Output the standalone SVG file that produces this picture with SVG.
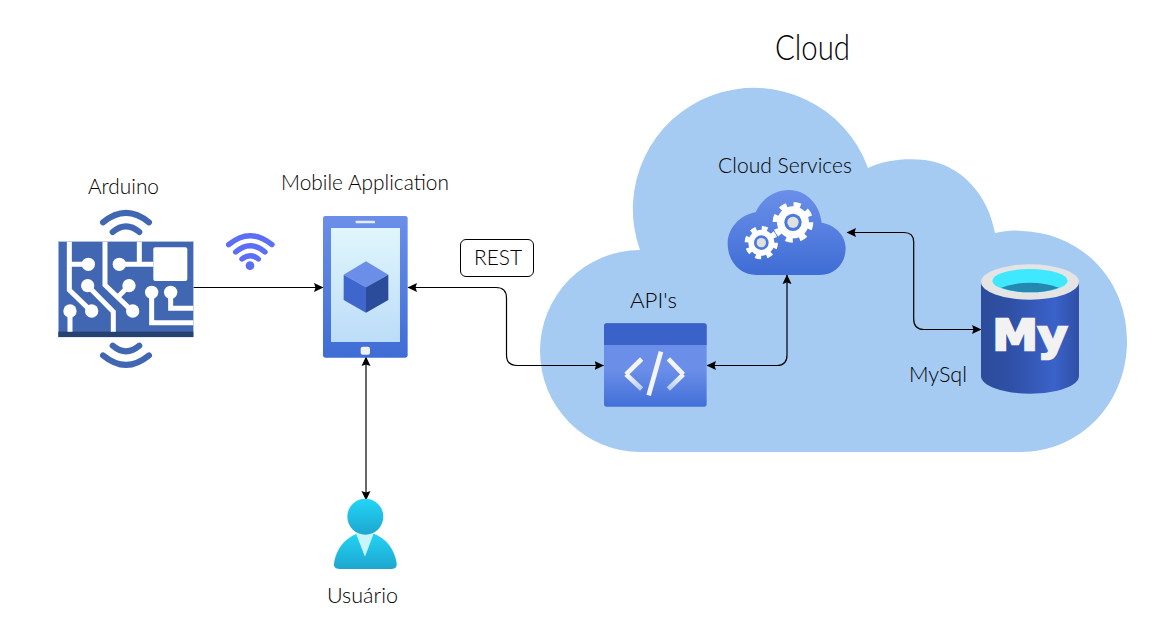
<svg xmlns="http://www.w3.org/2000/svg" width="1154" height="622" viewBox="0 0 1154 622">
<style>
text{font-family:"Lato","Liberation Sans",sans-serif;font-weight:300;font-size:21px;fill:#000}
.conn{fill:none;stroke:#000;stroke-width:1.2;marker-start:url(#ah);marker-end:url(#ah)}
.wave{fill:none;stroke:#4166b2;stroke-width:18;stroke-linecap:round}
.tr{fill:none;stroke:#fff;stroke-width:15}
.wf{fill:none;stroke:#5b6ef5;stroke-width:16;stroke-linecap:round}
.ch{fill:none;stroke:#f4f4f4;stroke-width:14}
</style>
<defs>
<marker id="ah" markerUnits="userSpaceOnUse" markerWidth="11" markerHeight="10" refX="9" refY="5" orient="auto-start-reverse"><path d="M0 .5L9.500 5L0 9.500L1.500 5Z" fill="#000"/></marker>
<linearGradient id="blue" x1="0" y1="0" x2="0" y2="1"><stop offset="0" stop-color="#6b8fe9"/><stop offset="1" stop-color="#3f6dd5"/></linearGradient>
<linearGradient id="api" x1="0" y1="0" x2="0" y2="1"><stop offset="0.55" stop-color="#6b8fe9"/><stop offset="1" stop-color="#426fd8"/></linearGradient>
<linearGradient id="scr" x1="0" y1="0" x2="0" y2="1"><stop offset="0" stop-color="#e0f6fc"/><stop offset="1" stop-color="#bcdcf8"/></linearGradient>
<linearGradient id="cyl" x1="0" y1="0" x2="1" y2="0"><stop offset="0" stop-color="#2c4b9a"/><stop offset="0.3" stop-color="#2f50a6"/><stop offset="0.75" stop-color="#3a62c9"/><stop offset="1" stop-color="#2f50a6"/></linearGradient>
<linearGradient id="usr" x1="0" y1="0" x2="0" y2="1"><stop offset="0" stop-color="#22d6f7"/><stop offset="1" stop-color="#1ea6cf"/></linearGradient>
<linearGradient id="fadeL" gradientUnits="userSpaceOnUse" x1="110" y1="680" x2="155" y2="717"><stop offset="0" stop-color="#f4f4f4"/><stop offset="1" stop-color="#b9cdf3"/></linearGradient>
<linearGradient id="fadeR" gradientUnits="userSpaceOnUse" x1="280" y1="680" x2="235" y2="717"><stop offset="0" stop-color="#f4f4f4"/><stop offset="1" stop-color="#b9cdf3"/></linearGradient>
</defs>
<rect width="1154" height="622" fill="#fff"/>

<g id="cloud">
<path d="M640 452A100 101 0 0 1 640 250A119 119 0 0 1 868 168C885 160 905 158 925 160C962 165 988 195 995 233C1005 231 1012 230 1022 231C1082 233 1127 280 1127 341C1127 402 1082 452 1020 452Z" fill="#a5cbf2"/>
<text x="812.500" y="60" text-anchor="middle" style="font-size:35px" textLength="75" lengthAdjust="spacingAndGlyphs">Cloud</text>
</g>

<g id="connectors">
<path d="M193 287.500H323" class="conn" style="marker-start:none"/>
<path d="M408 287.500H496Q506.500 287.500 506.500 298V355Q506.500 365.500 517 365.500H603.500" class="conn"/>
<path d="M366 357V500" class="conn"/>
<path d="M707 365.500H777Q787 365.500 787 355V275" class="conn"/>
<path d="M847 232.500H904Q913.700 232.500 913.700 242V319Q913.700 329.500 924 329.500H981" class="conn"/>
</g>

<g id="arduino">
<text x="123.500" y="194" text-anchor="middle" textLength="71" lengthAdjust="spacingAndGlyphs">Arduino</text>
<g transform="translate(40 170) scale(.3333)">
<rect x="55" y="215" width="405" height="286" fill="#4166b2" stroke="#a9bde0" stroke-width="2"/>
<rect x="55" y="485" width="405" height="16" fill="#26426f"/>
<path class="tr" d="M88 215V360L155 425M88 283H145M143 347L220 425V485M195 215V345L278 425M267 347L230 385M238 283H340M298 215V283M90 423V485M335 367V458H460M392 367V415H460"/>
<g fill="#fff"><circle cx="145" cy="283" r="20"/><circle cx="238" cy="283" r="20"/><circle cx="143" cy="347" r="20"/><circle cx="267" cy="347" r="20"/><circle cx="155" cy="423" r="20"/><circle cx="278" cy="423" r="20"/><circle cx="90" cy="423" r="20"/><circle cx="335" cy="367" r="20"/><circle cx="392" cy="367" r="20"/><rect x="340" y="232" width="102" height="101" rx="6"/></g>
<path class="wave" d="M189 157Q258 100 327 157M218 186Q258 152 298 186M218 527Q258 561 298 527M189 556Q258 613 327 556"/>
</g>
</g>

<g id="wifi" transform="translate(40 170) scale(.3333)">
<path class="wf" d="M566 224Q630 170 696 224M587 246Q630 208 675 246M606 267Q630 247 655 267"/>
<circle cx="630" cy="287" r="13" fill="#5b6ef5"/>
</g>

<g id="mobile">
<text x="365" y="190" text-anchor="middle" textLength="168" lengthAdjust="spacingAndGlyphs">Mobile Application</text>
<g transform="translate(300 170) scale(.3333)">
<rect x="69" y="138" width="254" height="425" rx="7" fill="url(#blue)"/>
<rect x="93" y="174" width="207" height="342" fill="url(#scr)"/>
<rect x="167" y="152" width="58" height="8" rx="2" fill="#e4ecfa"/>
<rect x="182" y="530" width="28" height="24" rx="6" fill="#f0f0f0"/>
<path d="M198 274L265 314L198 352L131 314Z" fill="#6b8fe9"/>
<path d="M131 314L198 352V428L131 390Z" fill="#3f66cc"/>
<path d="M265 314L198 352V428L265 390Z" fill="#2b4b9b"/>
</g>
</g>

<g id="rest">
<rect x="460.500" y="239.500" width="73" height="37" rx="5.500" fill="#fff" stroke="#000" stroke-width="1"/>
<text x="498" y="265" text-anchor="middle" textLength="48" lengthAdjust="spacingAndGlyphs">REST</text>
</g>

<g id="apis">
<text x="653.500" y="308" text-anchor="middle" textLength="47" lengthAdjust="spacingAndGlyphs">API's</text>
<g transform="translate(590 150) scale(.3333)">
<rect x="42" y="520" width="308" height="250" rx="8" fill="url(#api)"/>
<path d="M42 585V528Q42 520 50 520H342Q350 520 350 528V585Z" fill="#3a62c8"/>
<path class="ch" d="M155 627L108 673"/><path d="M108 673L155 717" fill="none" stroke="url(#fadeL)" stroke-width="14"/>
<path class="ch" d="M235 627L280 673"/><path d="M280 673L235 717" fill="none" stroke="url(#fadeR)" stroke-width="14"/>
<path class="ch" d="M213 605L176 736"/>
</g>
</g>

<g id="cloud-services">
<text x="785" y="173" text-anchor="middle" textLength="134" lengthAdjust="spacingAndGlyphs">Cloud Services</text>
<g transform="translate(590 150) scale(.3333)">
<path d="M500 375C450 375 413 335 413 280C413 235 450 195 497 187C515 145 555 120 597 120C650 120 690 165 695 218C735 225 767 255 767 295C767 340 735 375 690 375Z" fill="url(#blue)"/>
<circle cx="609" cy="217" r="48" fill="#fff"/>
<circle cx="609" cy="217" r="49" fill="none" stroke="#fff" stroke-width="24" stroke-dasharray="19.500 19"/>
<circle cx="609" cy="217" r="26" fill="#4a7ae0"/><circle cx="609" cy="217" r="17" fill="#e0e0e0"/>
<circle cx="514" cy="278" r="39" fill="#fff"/>
<circle cx="514" cy="278" r="40" fill="none" stroke="#fff" stroke-width="20" stroke-dasharray="16 15.420"/>
<circle cx="514" cy="278" r="22" fill="#4a7ae0"/><circle cx="514" cy="278" r="14" fill="#e0e0e0"/>
</g>
</g>

<g id="mysql">
<text x="938" y="382" text-anchor="middle" textLength="58" lengthAdjust="spacingAndGlyphs">MySql</text>
<g transform="translate(900 250) scale(.3333)">
<path d="M243 97V378C243 408 310 431 390 431C470 431 537 408 537 378V97Z" fill="url(#cyl)"/>
<ellipse cx="390" cy="96" rx="147" ry="53" fill="#e4e4e4"/>
<ellipse cx="390" cy="92" rx="113" ry="35" fill="#40e8ff"/>
<path d="M303 113Q345 98 390 98Q435 98 477 113Q440 127 390 127Q340 127 303 113Z" fill="#2488b0"/>
</g>
<text x="992.500" y="349.500" textLength="75" lengthAdjust="spacingAndGlyphs" style="font-family:'DejaVu Sans','Liberation Sans',sans-serif;font-weight:700;font-size:42px;fill:#f2f2f2;stroke:#f2f2f2;stroke-width:2.400">My</text>
</g>

<g id="usuario">
<text x="362.500" y="603" text-anchor="middle" textLength="71" lengthAdjust="spacingAndGlyphs">Usuário</text>
<g transform="translate(310 480) scale(.3333)">
<path d="M72 250C80 195 120 160 166 155C212 160 252 195 260 250Q262 267 245 267H88Q70 267 72 250Z" fill="url(#usr)"/>
<path d="M137 158H192L165 230Z" fill="#c8f4fc"/>
<circle cx="166" cy="110" r="54" fill="url(#usr)"/>
</g>
</g>
</svg>
